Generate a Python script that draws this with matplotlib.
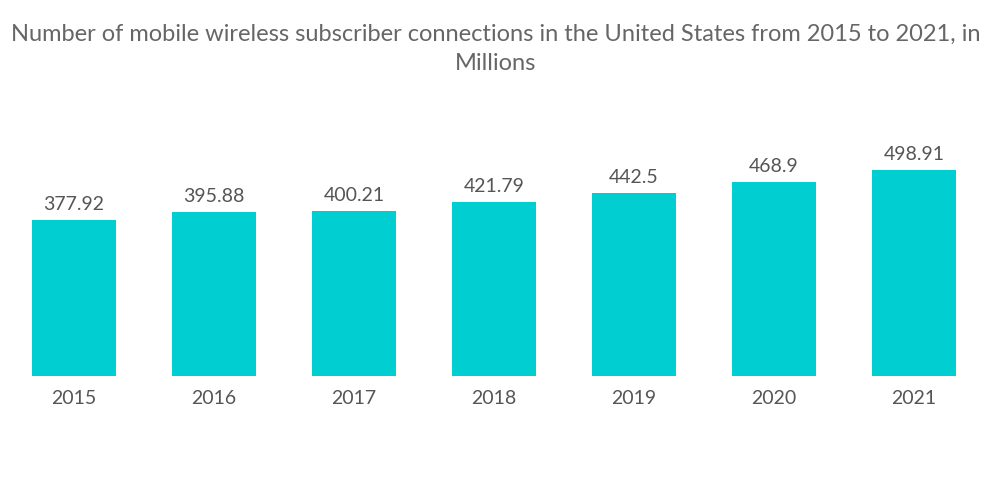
import matplotlib
matplotlib.use("Agg")
import matplotlib.pyplot as plt

years = ["2015", "2016", "2017", "2018", "2019", "2020", "2021"]
values = [377.92, 395.88, 400.21, 421.79, 442.5, 468.9, 498.91]
labels = ["377.92", "395.88", "400.21", "421.79", "442.5", "468.9", "498.91"]

plt.rcParams['font.family'] = ['Lato', 'DejaVu Sans']
text_color = "#555555"
bar_color = "#00CED1"

fig = plt.figure(figsize=(10, 5.04), dpi=100)
ax = fig.add_axes([0.004, 0.254, 0.98, 0.492])
x = range(len(years))
bars = ax.bar(x, values, width=0.6, color=bar_color)
for xi, v, lab in zip(x, values, labels):
    ax.annotate(lab, (xi, v), xytext=(0, 5), textcoords="offset points",
                ha="center", va="bottom", fontsize=14, color=text_color)
ax.set_xlim(-0.5, 6.5)
ax.set_ylim(0, 600)
ax.set_xticks(list(x))
ax.set_xticklabels(years, fontsize=14, color=text_color)
ax.tick_params(axis='x', length=0, pad=10)
ax.set_yticks([])
for s in ax.spines.values():
    s.set_visible(False)

fig.text(0.496, 0.953, "Number of mobile wireless subscriber connections in the United States from 2015 to 2021, in\nMillions",
         ha="center", va="top", fontsize=17, color="#666666", linespacing=1.5)

fig.savefig("out.png", dpi=100)
